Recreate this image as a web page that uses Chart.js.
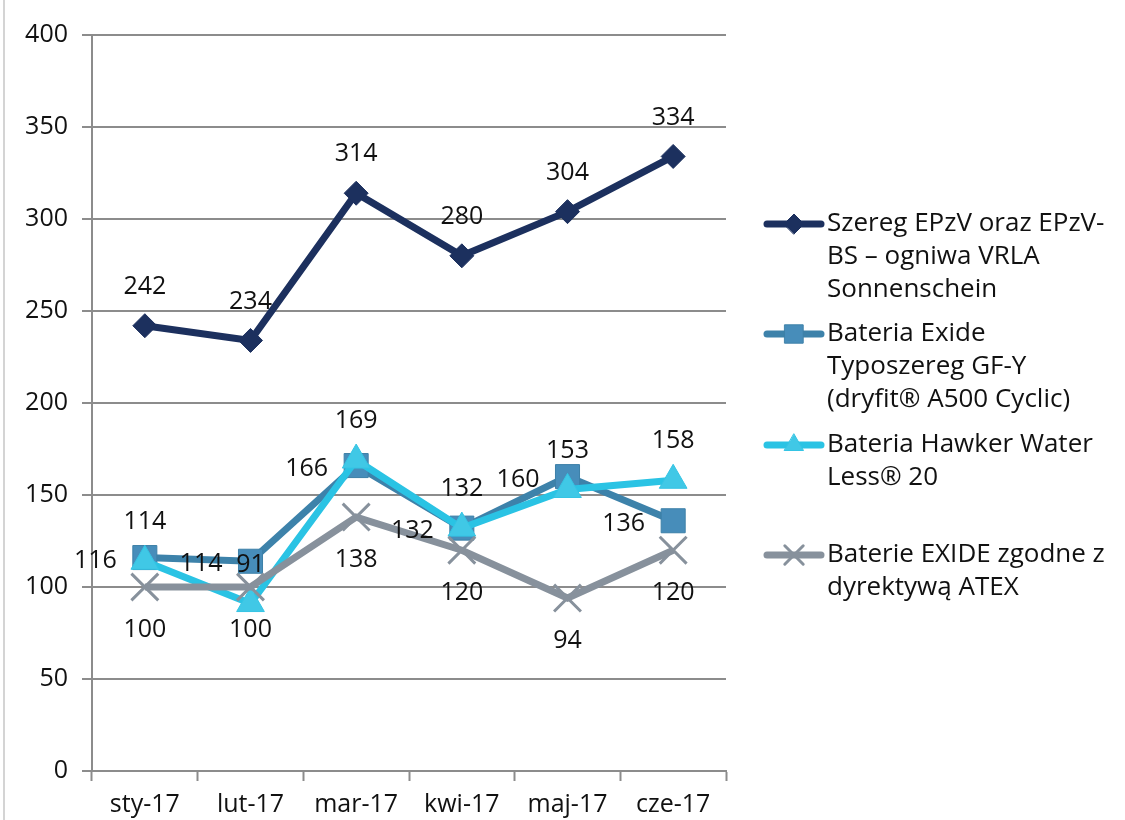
<!DOCTYPE html>
<html>
<head>
<meta charset="utf-8">
<script src="https://cdn.jsdelivr.net/npm/chart.js@4.4.1/dist/chart.umd.min.js"></script>
<style>
    html, body { margin: 0; padding: 0; background: #fff; }
    #wrap { position: relative; width: 1125px; height: 820px; }
    #edge { position: absolute; left: 3px; top: 0; width: 2px; height: 820px; background: #d4d4d4; }
</style>
</head>
<body>
<div id="wrap">
    <div id="edge"></div>
    <canvas id="lineChart" width="1125" height="820"></canvas>
</div>
<script>
const months = ['sty-17', 'lut-17', 'mar-17', 'kwi-17', 'maj-17', 'cze-17'];

const epzvValues = [242, 234, 314, 280, 304, 334];
const exideGfyValues = [116, 114, 166, 132, 160, 136];
const hawkerValues = [114, 91, 169, 132, 153, 158];
const atexValues = [100, 100, 138, 120, 94, 120];

const seriesNames = [
    ['Szereg EPzV oraz EPzV-', 'BS \u2013 ogniwa VRLA', 'Sonnenschein'],
    ['Bateria Exide', 'Typoszereg GF-Y', '(dryfit\u00AE A500 Cyclic)'],
    ['Bateria Hawker Water', 'Less\u00AE 20'],
    ['Baterie EXIDE zgodne z', 'dyrektyw\u0105 ATEX']
];

const yTicks = [0, 50, 100, 150, 200, 250, 300, 350, 400];

const FONT = '"Open Sans", "DejaVu Sans", sans-serif';
const GRID = '#8c8c8c';

// where each series puts its value labels
const labelPlace = ['above', 'left', 'above', 'below'];
// legend marker sizes
const legendRadius = [10, 13, 11, 13];

const valueLabels = {
    id: 'valueLabels',
    afterDatasetsDraw(chart) {
        const ctx = chart.ctx;
        ctx.save();
        ctx.font = '25px ' + FONT;
        ctx.fillStyle = '#111';
        ctx.textBaseline = 'middle';
        chart.data.datasets.forEach((ds, i) => {
            const meta = chart.getDatasetMeta(i);
            meta.data.forEach((pt, j) => {
                const txt = String(ds.data[j]);
                const place = labelPlace[i];
                if (place === 'above') {
                    ctx.textAlign = 'center';
                    ctx.fillText(txt, pt.x, pt.y - 39);
                } else if (place === 'below') {
                    ctx.textAlign = 'center';
                    ctx.fillText(txt, pt.x, pt.y + 43);
                } else {
                    ctx.textAlign = 'right';
                    ctx.fillText(txt, pt.x - 28, pt.y + 3);
                }
            });
        });
        ctx.restore();
    }
};

function drawMarker(ctx, ds, x, y, r) {
    ctx.save();
    ctx.fillStyle = ds.pointBackgroundColor;
    ctx.strokeStyle = ds.pointBorderColor;
    ctx.lineWidth = ds.pointBorderWidth;
    Chart.helpers.drawPoint(ctx, { pointStyle: ds.pointStyle, radius: r, borderWidth: ds.pointBorderWidth, rotation: 0 }, x, y);
    ctx.restore();
}

const sideLegend = {
    id: 'sideLegend',
    afterDraw(chart) {
        const ctx = chart.ctx;
        const x0 = 767, x1 = 821, tx = 827;
        const slotTop = [224, 334, 445, 555];
        ctx.save();
        chart.data.datasets.forEach((ds, i) => {
            const y = slotTop[i];
            ctx.strokeStyle = ds.borderColor;
            ctx.lineWidth = 7;
            ctx.lineCap = 'round';
            ctx.beginPath();
            ctx.moveTo(x0, y);
            ctx.lineTo(x1, y);
            ctx.stroke();
            drawMarker(ctx, ds, (x0 + x1) / 2, y, legendRadius[i]);
            ctx.fillStyle = '#111';
            ctx.font = '26px ' + FONT;
            ctx.textAlign = 'left';
            ctx.textBaseline = 'middle';
            seriesNames[i].forEach((line, k) => {
                ctx.fillText(line, tx, y + k * 33);
            });
        });
        ctx.restore();
    }
};

new Chart(document.getElementById('lineChart'), {
    type: 'line',
    data: {
        labels: months,
        datasets: [
            {
                label: seriesNames[0].join(' '),
                data: epzvValues,
                order: 4,
                borderColor: '#1c305e',
                backgroundColor: '#1c305e',
                pointBackgroundColor: '#1c305e',
                pointBorderColor: '#1c305e',
                pointStyle: 'rectRot',
                pointRadius: 12,
                pointBorderWidth: 1,
                borderWidth: 7
            },
            {
                label: seriesNames[1].join(' '),
                data: exideGfyValues,
                order: 3,
                borderColor: '#3d82aa',
                backgroundColor: '#478dba',
                pointBackgroundColor: '#478dba',
                pointBorderColor: '#3d80a8',
                pointStyle: 'rect',
                pointRadius: 17,
                pointBorderWidth: 1,
                borderWidth: 7
            },
            {
                label: seriesNames[2].join(' '),
                data: hawkerValues,
                order: 2,
                borderColor: '#2ac3e4',
                backgroundColor: '#40c8e6',
                pointBackgroundColor: '#40c8e6',
                pointBorderColor: '#34c4e4',
                pointStyle: 'triangle',
                pointRadius: 16,
                pointBorderWidth: 1,
                borderWidth: 7
            },
            {
                label: seriesNames[3].join(' '),
                data: atexValues,
                order: 1,
                borderColor: '#87919c',
                backgroundColor: '#87919c',
                pointBackgroundColor: '#87919c',
                pointBorderColor: '#87919c',
                pointStyle: 'crossRot',
                pointRadius: 19,
                pointBorderWidth: 3,
                borderWidth: 7
            }
        ]
    },
    options: {
        responsive: false,
        animation: false,
        events: [],
        layout: { padding: { top: 35, right: 399, left: 0, bottom: 0 } },
        elements: { line: { tension: 0 } },
        plugins: {
            legend: { display: false },
            tooltip: { enabled: false }
        },
        scales: {
            x: {
                offset: true,
                grid: {
                    offset: true,
                    drawOnChartArea: false,
                    drawTicks: true,
                    tickLength: 10,
                    tickWidth: 2,
                    tickColor: GRID
                },
                border: { color: GRID, width: 2 },
                ticks: {
                    color: '#111',
                    font: { family: FONT, size: 25 },
                    padding: 9,
                    maxRotation: 0
                },
                afterFit: (scale) => { scale.height = 49; }
            },
            y: {
                min: 0,
                max: 400,
                afterBuildTicks: (scale) => { scale.ticks = yTicks.map(v => ({ value: v })); },
                grid: {
                    color: GRID,
                    lineWidth: 2,
                    drawTicks: true,
                    tickLength: 10
                },
                border: { color: GRID, width: 2 },
                ticks: {
                    color: '#111',
                    font: { family: FONT, size: 25 },
                    padding: 14
                },
                afterFit: (scale) => { scale.width = 92; }
            }
        }
    },
    plugins: [valueLabels, sideLegend]
});
</script>
</body>
</html>
